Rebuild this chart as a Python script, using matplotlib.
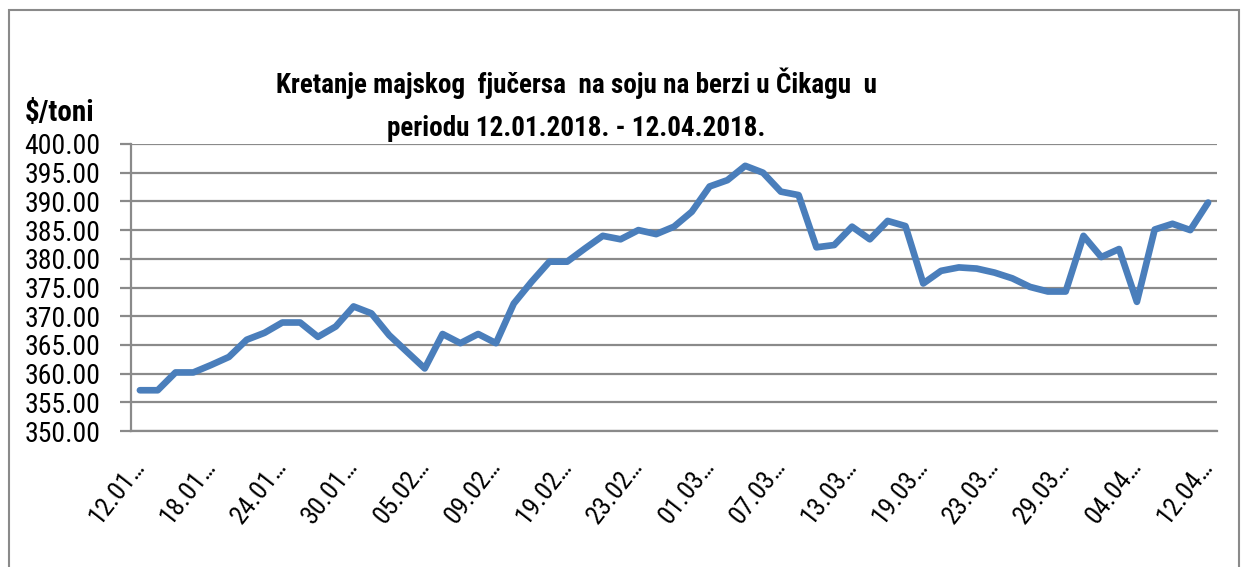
import matplotlib.pyplot as plt
from matplotlib.patches import Rectangle
from matplotlib.transforms import ScaledTranslation

# May soybean futures on CBOT, $/ton, trading days 12.01.2018 - 12.04.2018
prices = [
    357.1, 357.1, 360.2, 360.2, 361.5, 362.9, 365.9, 367.1, 368.9, 368.9,
    366.4, 368.2, 371.7, 370.5, 366.7, 363.8, 360.9, 366.9, 365.3, 366.9,
    365.3, 372.2, 376.0, 379.5, 379.5, 381.8, 384.0, 383.4, 385.0, 384.3,
    385.6, 388.2, 392.6, 393.7, 396.2, 395.0, 391.7, 391.1, 382.0, 382.4,
    385.6, 383.4, 386.6, 385.7, 375.7, 377.9, 378.5, 378.3, 377.6, 376.6,
    375.1, 374.3, 374.3, 384.0, 380.3, 381.7, 372.5, 385.1, 386.1, 385.0,
    389.8,
]
tick_labels = [
    "12.01…", "18.01…", "24.01…", "30.01…", "05.02…", "09.02…", "19.02…",
    "23.02…", "01.03…", "07.03…", "13.03…", "19.03…", "23.03…", "29.03…",
    "04.04…", "12.04…",
]
tick_step = 4
y_ticks = [350 + 5 * k for k in range(11)]

font = ["Roboto Condensed", "DejaVu Sans"]
grid_color = "#8a8a8a"

fig = plt.figure(figsize=(12.47, 5.67), dpi=100)
ax = fig.add_axes([131 / 1247, 1 - 431 / 567, 1086 / 1247, 287 / 567])

# outer chart border
fig.patches.append(Rectangle((9 / 1247, -0.01), 1230 / 1247, 1 - 10 / 567 + 0.01,
                             transform=fig.transFigure, fill=False,
                             edgecolor="#8a8a8a", linewidth=1.5))

x = list(range(len(prices)))
ax.plot(x, prices, color="#4a7ebb", linewidth=4.8, solid_joinstyle="round",
        solid_capstyle="round", zorder=3)

ax.set_xlim(-0.5, len(prices) - 0.5)
ax.set_ylim(350, 400)
ax.set_yticks(y_ticks)
ax.set_yticklabels([f"{v:.2f}" for v in y_ticks], family=font, fontsize=20)
ax.set_xticks(x[::tick_step])
ax.set_xticklabels(tick_labels, family=font, fontsize=19, rotation=52,
                   ha="right", va="center", rotation_mode="anchor")
shift = ScaledTranslation(8 / 100, 0, fig.dpi_scale_trans)
for lbl in ax.get_xticklabels():
    lbl.set_transform(lbl.get_transform() + shift)

ax.grid(axis="y", color=grid_color, linewidth=1.6, zorder=1)
ax.tick_params(axis="y", length=8, width=1.6, color=grid_color, pad=14)
ax.tick_params(axis="x", length=0, pad=22)
for side in ["top", "right"]:
    ax.spines[side].set_visible(False)
for side in ["left", "bottom"]:
    ax.spines[side].set_color(grid_color)
    ax.spines[side].set_linewidth(1.6)

fig.text(576 / 1247, 1 - 83 / 567, "Kretanje majskog  fjučersa  na soju na berzi u Čikagu  u",
         family=font, fontsize=19.5, fontweight="bold", ha="center", va="center")
fig.text(576 / 1247, 1 - 128 / 567, "periodu 12.01.2018. - 12.04.2018.",
         family=font, fontsize=19.5, fontweight="bold", ha="center", va="center")
fig.text(25 / 1247, 1 - 113 / 567, "$/toni", family=font, fontsize=21,
         fontweight="bold", ha="left", va="center")

fig.savefig("out.png", dpi=100)
